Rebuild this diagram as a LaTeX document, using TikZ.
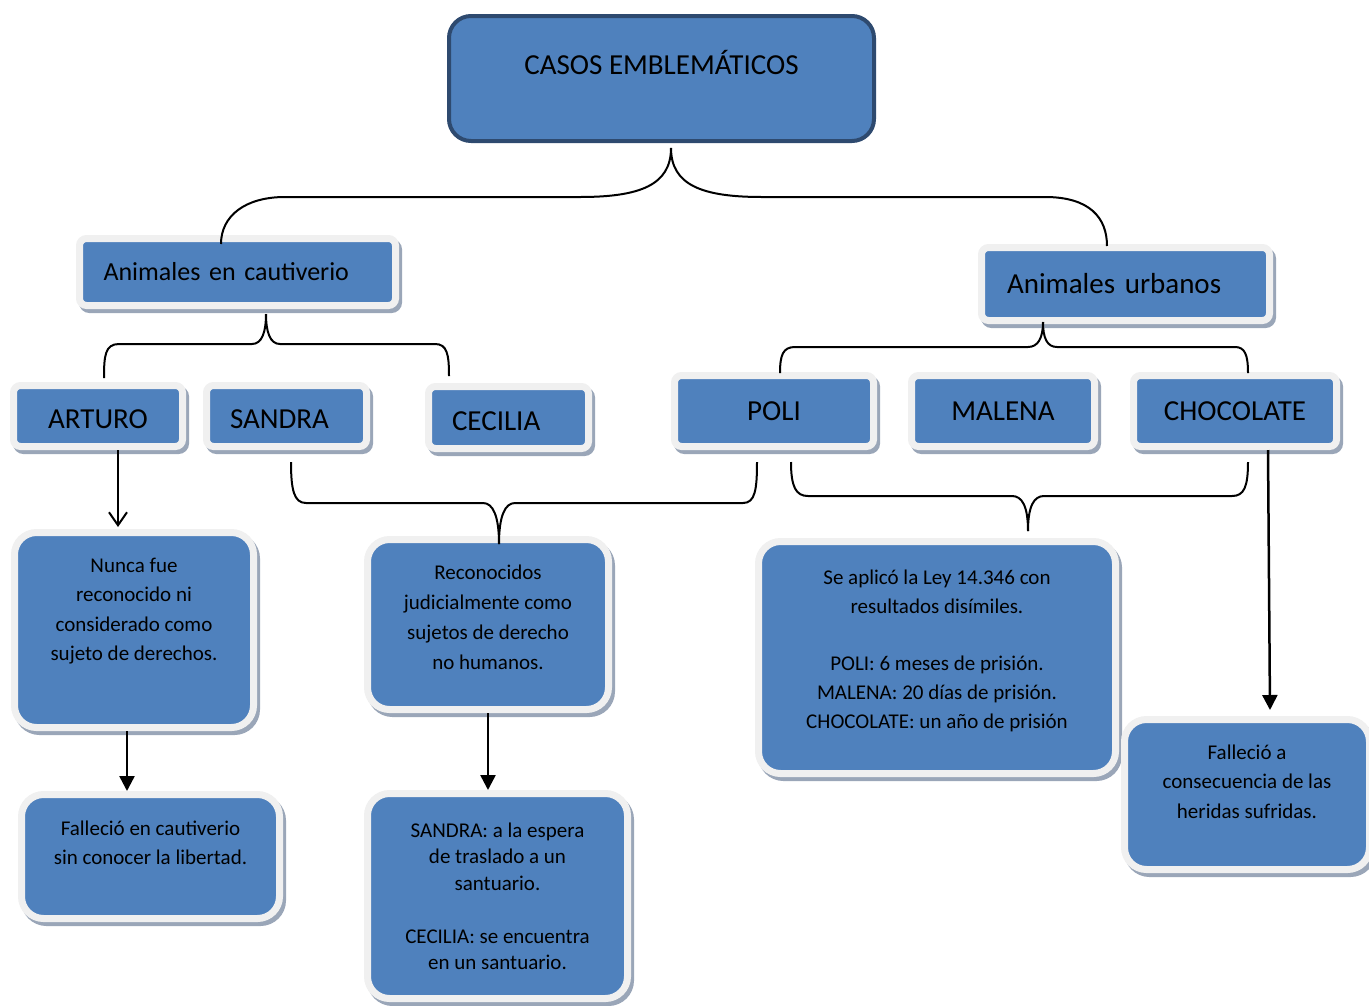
\documentclass[tikz,border=0pt]{standalone}
\usepackage{fontspec}
\setmainfont{Carlito}
\usetikzlibrary{arrows.meta, calc, shadows}
\definecolor{azul}{HTML}{4F81BD}
\definecolor{bordegris}{HTML}{F0F0F0}
\definecolor{sombra}{HTML}{9AA6B8}
\definecolor{azuloscuro}{HTML}{2E4A6F}
\tikzstyle{caja} = [draw=bordegris, fill=azul, line width=7pt, rounded corners=7pt, inner sep=0pt, drop shadow={shadow xshift=3pt, shadow yshift=-4pt, fill=sombra, draw=sombra, line width=7pt, opacity=1}]
\tikzstyle{nombre} = [caja, font=\fontsize{29}{35}\selectfont]
\tikzstyle{texto} = [caja, rounded corners=22pt, font=\fontsize{21}{29.5}\selectfont]
\tikzstyle{llave} = [line width=2pt]
\tikzstyle{flecha} = [line width=2.5pt, -{Triangle[length=15pt, width=15pt]}]
\newcommand{\textocaja}[4]{\parbox[c][#2][t]{#1}{\centering\rule{0pt}{#3}#4}}

\begin{document}
\begin{tikzpicture}[x={(1pt,0pt)}, y={(0pt,-1pt)}]
  \useasboundingbox (0,0) rectangle (1369,1005);
  % titulo
  \node[draw=azuloscuro, fill=azul, line width=4pt, rounded corners=22pt, minimum width=425pt, minimum height=125pt, inner sep=0pt, text height=19pt, text depth=27pt, font=\fontsize{29}{35}\selectfont] (titulo) at (661.5, 78.5) {CASOS EMBLEMÁTICOS};
  % categorias
  \node[caja, minimum width=316pt, minimum height=67pt, inner xsep=24pt, text width=268pt, align=left, font=\fontsize{26}{31}\selectfont] (cautiverio) at (237.5, 272) {Animales en cautiverio};
  \node[caja, minimum width=288pt, minimum height=73pt, inner xsep=25.5pt, text width=237pt, align=left, font=\fontsize{29}{35}\selectfont] (urbanos) at (1125.5, 284) {Animales urbanos};
  % nombres
  \node[nombre, minimum width=169pt, minimum height=61pt, text height=26pt] (arturo) at (98, 416) {ARTURO};
  \node[nombre, minimum width=160pt, minimum height=61pt, text height=26pt, inner xsep=23.5pt, text width=113pt, align=left] (sandra) at (286.5, 416) {SANDRA};
  \node[nombre, minimum width=160pt, minimum height=62pt, text height=26pt, inner xsep=23.5pt, text width=113pt, align=left] (cecilia) at (508.5, 417.5) {CECILIA};
  \node[nombre, minimum width=199pt, minimum height=71pt] (poli) at (774, 411) {POLI};
  \node[nombre, minimum width=183pt, minimum height=71pt] (malena) at (1003, 411) {MALENA};
  \node[nombre, minimum width=203pt, minimum height=71pt] (chocolate) at (1235, 411) {CHOCOLATE};
  % textos
  \node[texto, minimum width=239pt, minimum height=195pt] (nunca) at (134, 630) {\textocaja{219pt}{195pt}{39.5pt}{Nunca fue\\ reconocido ni\\ considerado como\\ sujeto de derechos.}};
  \node[texto, minimum width=258pt, minimum height=124pt, font=\fontsize{21}{29}\selectfont] (fallecio1) at (150.5, 856.5) {\textocaja{238pt}{124pt}{40.5pt}{Falleció en cautiverio\\ sin conocer la libertad.}};
  \node[texto, minimum width=241pt, minimum height=170pt, font=\fontsize{21}{30}\selectfont] (reconocidos) at (488, 624.5) {\textocaja{221pt}{170pt}{39.5pt}{Reconocidos\\ judicialmente como\\ sujetos de derecho\\ no humanos.}};
  \node[texto, minimum width=260pt, minimum height=205pt, font=\fontsize{21}{26.5}\selectfont] (destino) at (497.5, 896) {\textocaja{240pt}{205pt}{43.5pt}{SANDRA: a la espera\\ de traslado a un\\ santuario.\\[26.5pt] CECILIA: se encuentra\\ en un santuario.}};
  \node[texto, minimum width=357pt, minimum height=232pt, font=\fontsize{21}{29}\selectfont] (ley) at (937, 657.5) {\textocaja{337pt}{232pt}{42.5pt}{Se aplicó la Ley 14.346 con\\ resultados disímiles.\\[28.5pt] POLI: 6 meses de prisión.\\ MALENA: 20 días de prisión.\\ CHOCOLATE: un año de prisión}};
  \node[texto, minimum width=245pt, minimum height=150pt] (fallecio2) at (1247, 794.5) {\textocaja{225pt}{150pt}{39.5pt}{Falleció a\\ consecuencia de las\\ heridas sufridas.}};
  % llaves
  \draw[llave] ($(cautiverio.north)+(-16.5,9)$) .. controls +(0,-28) and +(-40,0) .. (285,197) -- (580,197) .. controls +(60,0) and +(0,37) .. ($(titulo.south)+(9.5,5)$);
  \draw[llave] ($(titulo.south)+(9.5,5)$) .. controls +(0,37) and +(-60,0) .. (762,197) -- (1045,197) .. controls +(45,0) and +(0,-28) .. ($(urbanos.north)+(-18.5,2)$);
  \draw[llave] ($(arturo.north)+(6,-4)$) .. controls +(0,-22) and +(-14,0) .. (119,344) -- (252,344) .. controls +(10,0) and +(0,18) .. ($(cautiverio.south)+(28.5,5)$);
  \draw[llave] ($(cautiverio.south)+(28.5,5)$) .. controls +(0,18) and +(-10,0) .. (280,344) -- (435,344) .. controls +(12,0) and +(0,-22) .. ($(cecilia.north)+(-59.5,-7)$);
  \draw[llave] ($(poli.north)+(6,1)$) .. controls +(0,-18) and +(-12,0) .. (795,347) -- (1028,347) .. controls +(10,0) and +(0,16) .. ($(urbanos.south)+(-82.5,-2)$);
  \draw[llave] ($(urbanos.south)+(-82.5,-2)$) .. controls +(0,16) and +(-10,0) .. (1057,347) -- (1235,347) .. controls +(10,0) and +(0,-18) .. ($(chocolate.north)+(13,1)$);
  \draw[llave] ($(sandra.south)+(4.5,12)$) .. controls +(0,28) and +(-12,0) .. (306,503) -- (483,503) .. controls +(10,0) and +(0,-28) .. ($(reconocidos.north)+(11,8)$);
  \draw[llave] ($(reconocidos.north)+(11,8)$) .. controls +(0,-28) and +(-10,0) .. (515,503) -- (743,503) .. controls +(12,0) and +(0,28) .. ($(poli.south)+(-17,12)$);
  \draw[llave] ($(poli.south)+(17,12)$) .. controls +(0,25) and +(-12,0) .. (808,496) -- (1012,496) .. controls +(10,0) and +(0,-25) .. ($(ley.north)+(91,-7)$);
  \draw[llave] ($(ley.north)+(91,-7)$) .. controls +(0,-25) and +(-10,0) .. (1044,496) -- (1232,496) .. controls +(12,0) and +(0,25) .. ($(chocolate.south)+(13,12)$);
  % flechas
  \draw[line width=2pt, -{Straight Barb[length=13pt, width=18pt]}] ($(arturo.south)+(20,0)$) -- ($(nunca.north)+(-16,-2)$);
  \draw[flecha] ($(nunca.south)+(-7,0)$) -- ($(fallecio1.north)+(-23.5,0)$);
  \draw[flecha] (reconocidos.south) -- ($(destino.north)+(-9.5,0)$);
  \draw[flecha] ($(chocolate.south)+(33,0)$) -- ($(fallecio2.north)+(23,-6)$);
\end{tikzpicture}
\end{document}
